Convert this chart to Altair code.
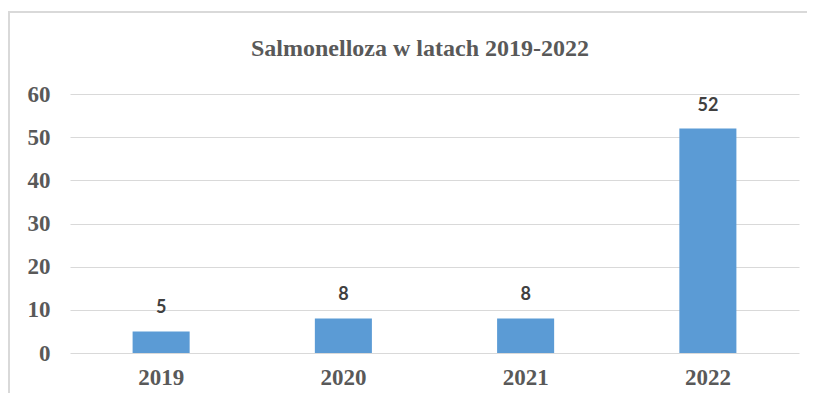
import altair as alt
import pandas as pd

years = ["2019", "2020", "2021", "2022"]
cases = [5, 8, 8, 52]
y_ticks = [0, 10, 20, 30, 40, 50, 60]
title_text = ["Salmonelloza w latach 2019-2022"]

df = pd.DataFrame({"year": years, "cases": cases})
df_title = pd.DataFrame({"t": title_text})

serif = "Liberation Serif"
gray = "#595959"

x_enc = alt.X(
    "year:N",
    sort=years,
    scale=alt.Scale(paddingInner=0.687, paddingOuter=0.3435),
    axis=alt.Axis(
        title=None, labelAngle=0, labelFont=serif, labelFontWeight="bold",
        labelFontSize=23, labelColor=gray, ticks=False, domain=False,
        labelPadding=13, grid=False,
    ),
)
y_enc = alt.Y(
    "cases:Q",
    scale=alt.Scale(domain=[0, 60], nice=False),
    axis=alt.Axis(
        values=y_ticks, title=None, ticks=False, domain=False,
        labelFont=serif, labelFontWeight="bold", labelFontSize=23,
        labelColor=gray, labelPadding=20, gridColor="#d9d9d9", gridWidth=1,
    ),
)

base = alt.Chart(df)
bars = base.mark_bar(color="#5B9BD5").encode(x=x_enc, y=y_enc)
labels = base.mark_text(
    dy=-18, baseline="alphabetic", font="Lato", fontWeight="bold",
    fontSize=18, color="#404040",
).encode(x=x_enc, y=y_enc, text="cases:Q")

title = alt.Chart(df_title).mark_text(
    font=serif, fontSize=24, fontWeight="bold", color=gray,
    baseline="alphabetic", align="center",
).encode(text="t:N", x=alt.value(350), y=alt.value(-38))

border_top = base.mark_rule(color="#d9d9d9", strokeWidth=1.5).encode(
    x=alt.value(-62), x2=alt.value(745), y=alt.value(-82)
)
border_left = base.mark_rule(color="#d9d9d9", strokeWidth=1.5).encode(
    x=alt.value(-61), y=alt.value(-82), y2=alt.value(320)
)

chart = (
    alt.layer(border_top, border_left, bars, labels, title)
    .properties(
        width=729,
        height=259,
        view=alt.ViewBackground(stroke="transparent", strokeWidth=0),
        autosize=alt.AutoSizeParams(type="none"),
        padding={"left": 62, "top": 86, "right": 8, "bottom": 40},
    )
    .configure_view(strokeWidth=0, stroke="transparent")
    .configure_axisX(grid=False)
    .configure(background="white")
)

chart.save("out.html", embed_options={"renderer": "svg", "actions": False})
